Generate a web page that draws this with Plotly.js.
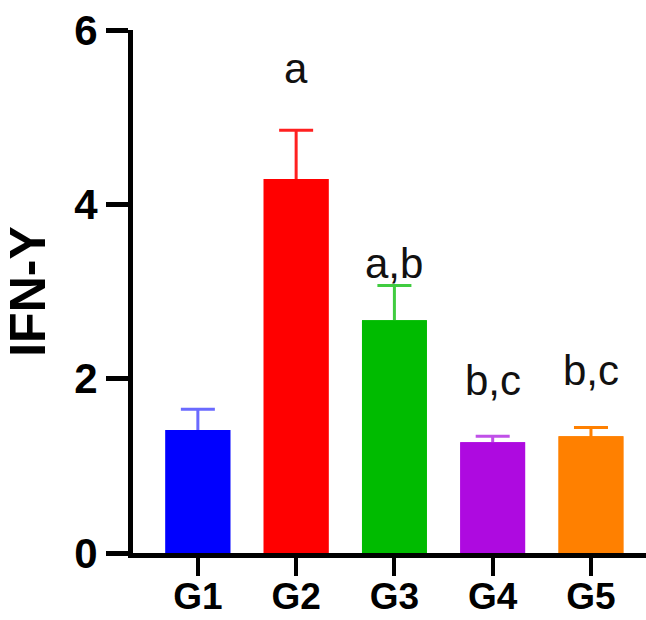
<!DOCTYPE html>
<html>
<head>
<meta charset="utf-8">
<script src="https://cdn.plot.ly/plotly-3.0.1.min.js"></script>
<style>html,body{margin:0;padding:0;background:#fff;}#chart{width:646px;height:620px;}</style>
</head>
<body>
<div id="chart"></div>
<script>
var categories = ["G1", "G2", "G3", "G4", "G5"];
var means = [1.41, 4.29, 2.67, 1.27, 1.34];
var sems = [0.24, 0.56, 0.40, 0.07, 0.10];
var colors = ["#0000ff", "#ff0000", "#00bb00", "#ae0ae0", "#ff8000"];
var errColors = ["#6a6aff", "#ff2020", "#40cc40", "#c050e8", "#ff8000"];
var letters = ["", "a", "a,b", "b,c", "b,c"];
var letterY = [null, 5.56, 3.32, 1.98, 2.09];
var yTicks = [0, 2, 4, 6];

var font = "Liberation Sans, Arial, sans-serif";
var traces = [];
// first: bars carrying symmetric error bars
categories.forEach(function(c, i){
  traces.push({
    type: "bar", x: [c], y: [means[i]], width: 0.66,
    marker: {color: colors[i], line: {width: 0}},
    error_y: {type: "data", array: [sems[i]], thickness: 3, width: 17, color: errColors[i]},
    hoverinfo: "none", showlegend: false
  });
});
// second: plain bars on top, hiding the lower half of each error bar
categories.forEach(function(c, i){
  traces.push({
    type: "bar", x: [c], y: [means[i]], width: 0.66,
    marker: {color: colors[i], line: {width: 0}},
    hoverinfo: "none", showlegend: false
  });
});

var annotations = [];
letters.forEach(function(t, i){
  if (t) annotations.push({
    x: categories[i], y: letterY[i], xref: "x", yref: "y",
    text: t, showarrow: false, xanchor: "center", yanchor: "middle",
    font: {family: font, size: 42, color: "#111"}
  });
});

var layout = {
  width: 646, height: 620,
  margin: {l: 133, r: 0, t: 30, b: 67, pad: 0},
  paper_bgcolor: "#fff", plot_bgcolor: "#fff",
  showlegend: false,
  barmode: "overlay",
  xaxis: {
    type: "category",
    range: [-0.66, 4.56],
    showline: true, linewidth: 5, linecolor: "#000",
    ticks: "outside", ticklen: 18, tickwidth: 4, tickcolor: "#000",
    ticklabelstandoff: -11,
    showgrid: false, zeroline: false,
    tickfont: {family: font, size: 37, color: "#000", weight: "bold"}
  },
  yaxis: {
    range: [0, 6],
    tickvals: yTicks,
    ticktext: yTicks.map(String),
    showline: true, linewidth: 5, linecolor: "#000",
    ticks: "outside", ticklen: 22, tickwidth: 5, tickcolor: "#000",
    showgrid: false, zeroline: false,
    tickfont: {family: font, size: 42, color: "#000", weight: "bold"},
    title: {text: "IFN-Y", standoff: 18, font: {family: font, size: 50, color: "#000", weight: "bold"}}
  },
  annotations: annotations
};

Plotly.newPlot("chart", traces, layout, {displayModeBar: false, staticPlot: true});
</script>
</body>
</html>
